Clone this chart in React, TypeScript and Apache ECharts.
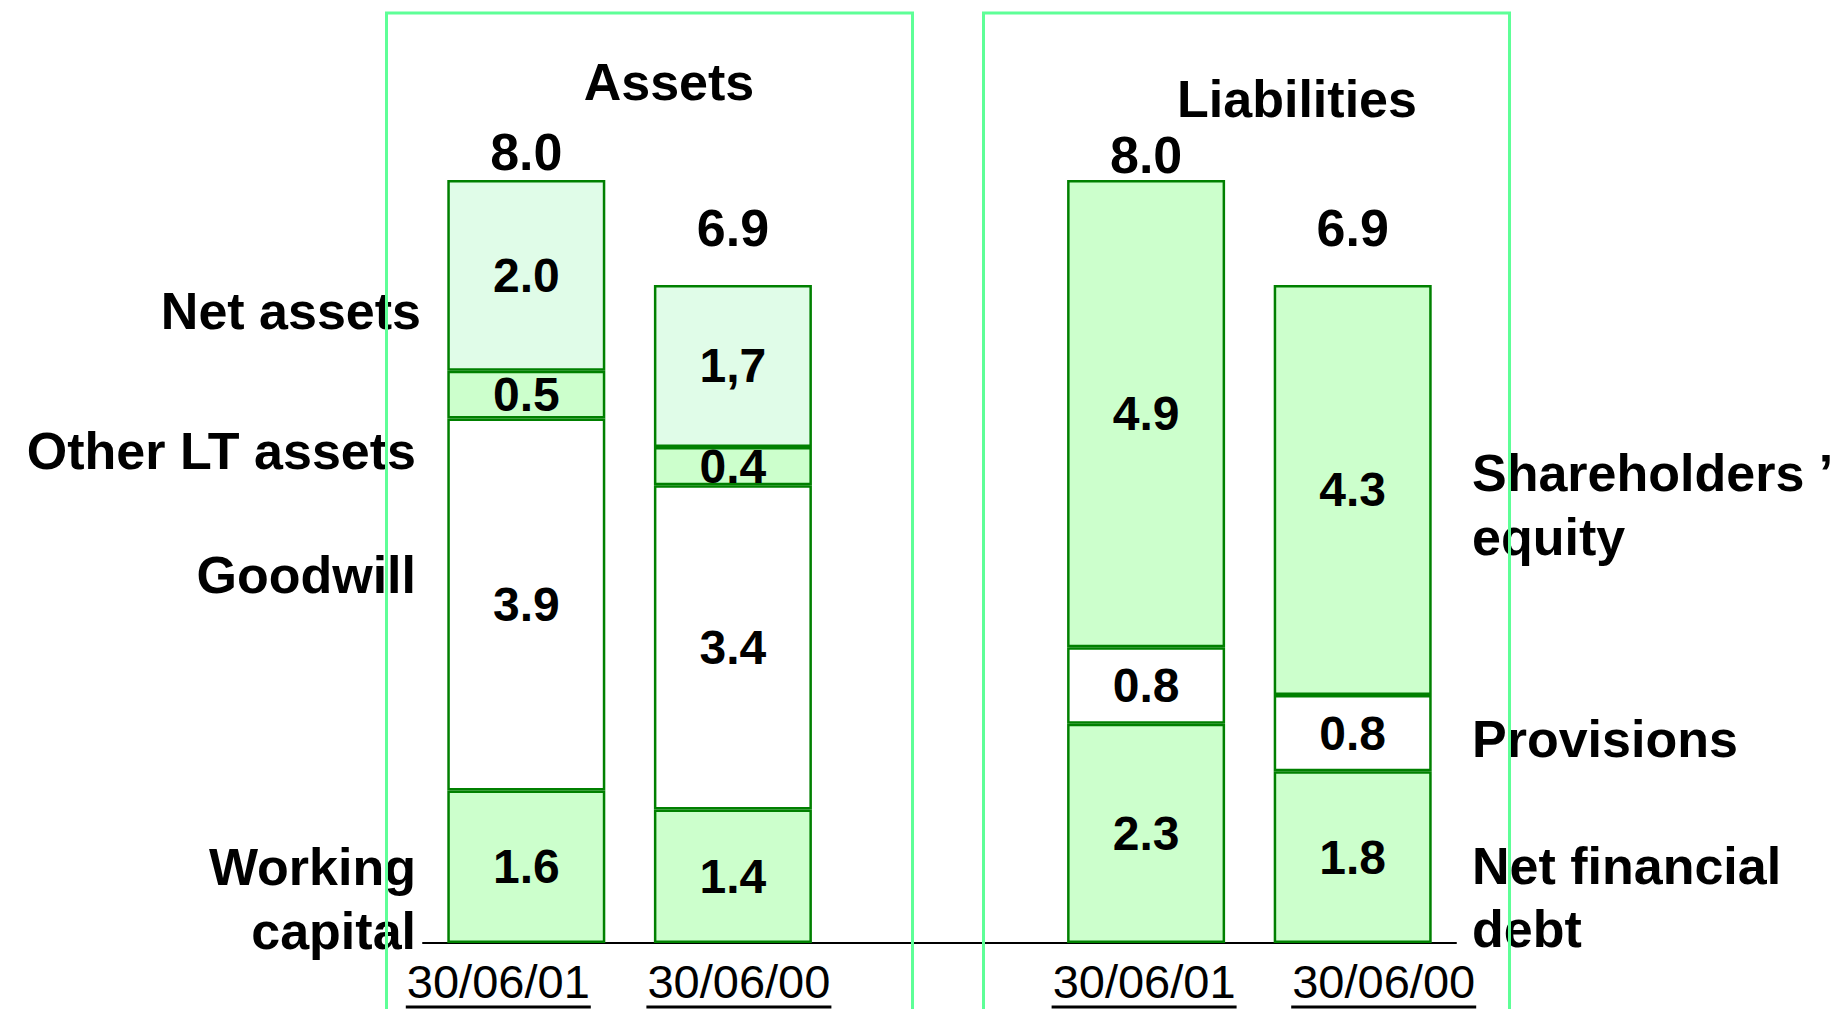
import React, { useEffect, useRef } from "react";
import * as echarts from "echarts";

const categories = ["30/06/01", "30/06/00", "", "30/06/01", "30/06/00"];
const workingCapital = [1.6, 1.4, null, null, null];
const goodwill = [3.9, 3.4, null, null, null];
const otherLtAssets = [0.5, 0.4, null, null, null];
const netAssets = [2.0, 1.7, null, null, null];
const netAssetsLabels = ["2.0", "1,7", "", "", ""];
const netFinancialDebt = [null, null, null, 2.3, 1.8];
const provisions = [null, null, null, 0.8, 0.8];
const shareholdersEquity = [null, null, null, 4.9, 4.3];

const panelTitles = ["Assets", "Liabilities"];
const assetLabels = ["Net assets", "Other LT assets", "Goodwill", "Working\ncapital"];
const liabilityLabels = ["Shareholders \u2019\nequity", "Provisions", "Net financial\ndebt"];

const FONT = "'Liberation Sans', Arial, Helvetica, sans-serif";
const BORDER = "#008000";
const GREEN = "#CCFFCC";
const PALE = "#E0FCE8";
const BOX = "#5EFF97";

// styling (not data): per-category shifts of date labels and total-label gaps
const dateLabelPadding = [
  [0, 56, 0, 0],
  [0, 0, 0, 12],
  [0, 0, 0, 0],
  [0, 4, 0, 0],
  [0, 0, 0, 62],
];
const totalLabelGap = [2, 31, 0, -1, 31];

const allSegments = [workingCapital, goodwill, otherLtAssets, netAssets, netFinancialDebt, provisions, shareholdersEquity];
const totals = categories.map((_, i) => {
  let s = 0;
  let any = false;
  allSegments.forEach((arr) => {
    const v = arr[i];
    if (v !== null && v !== undefined) {
      s += v;
      any = true;
    }
  });
  return any ? Math.round(s * 10) / 10 : null;
});

function segment(name: string, data: (number | null)[], color: string, labels?: string[]) {
  return {
    type: "bar",
    name,
    stack: "total",
    data,
    barWidth: 158,
    barGap: "-100%",
    itemStyle: { color, borderColor: BORDER, borderWidth: 2.5 },
    label: {
      show: true,
      position: "inside",
      fontSize: 48,
      fontWeight: "bold",
      fontFamily: FONT,
      color: "#000",
      formatter: (p: any) => (labels ? labels[p.dataIndex] : Number(p.value).toFixed(1)),
    },
    silent: true,
  };
}

export default function App() {
  const ref = useRef<HTMLDivElement>(null);
  useEffect(() => {
    if (!ref.current) return;
    const chart = echarts.init(ref.current, null, { renderer: "svg" });

    const textEl = (text: string, x: number, y: number, align: string, lh = 64) => ({
      type: "text",
      x,
      y,
      z: 10,
      style: {
        text,
        fill: "#000",
        font: `bold 52px ${FONT}`,
        fontSize: 52,
        fontWeight: "bold",
        fontFamily: FONT,
        lineHeight: lh,
        align,
        textAlign: align,
        verticalAlign: "middle",
        textVerticalAlign: "middle",
      },
    });

    const option: any = {
      animation: false,
      backgroundColor: "#fff",
      grid: { left: 423, right: 384, top: 180, bottom: 66, containLabel: false },
      xAxis: {
        type: "category",
        data: categories.map((c, i) => ({
          value: c,
          textStyle: { padding: dateLabelPadding[i] },
        })),
        axisLine: { show: true, lineStyle: { color: "#000", width: 2 } },
        axisTick: { show: false },
        splitLine: { show: false },
        axisLabel: {
          interval: 0,
          hideOverlap: false,
          margin: 14,
          formatter: (v: string) => (v ? `{t|${v}}\n{u| }` : ""),
          rich: {
            t: { fontSize: 47, fontFamily: FONT, color: "#000", lineHeight: 48, align: "center" },
            u: { width: 185, height: 3, lineHeight: 4, backgroundColor: "#000", fontSize: 1, align: "center" },
          },
        },
      },
      yAxis: { type: "value", min: 0, max: 8, show: false, splitLine: { show: false } },
      series: [
        segment("Working capital", workingCapital, GREEN),
        segment("Goodwill", goodwill, "#FFFFFF"),
        segment("Other LT assets", otherLtAssets, GREEN),
        segment("Net assets", netAssets, PALE, netAssetsLabels),
        segment("Net financial debt", netFinancialDebt, GREEN),
        segment("Provisions", provisions, "#FFFFFF"),
        segment("Shareholders' equity", shareholdersEquity, GREEN),
        {
          type: "bar",
          name: "Total",
          data: totals.map((v, i) => ({ value: v, label: { distance: totalLabelGap[i] } })),
          barWidth: 158,
          barGap: "-100%",
          itemStyle: { color: "rgba(0,0,0,0)", borderWidth: 0 },
          silent: true,
          z: 1,
          label: {
            show: true,
            position: "top",
            fontSize: 52,
            fontWeight: "bold",
            fontFamily: FONT,
            color: "#000",
            formatter: (p: any) => (totals[p.dataIndex] == null ? "" : Number(totals[p.dataIndex]).toFixed(1)),
          },
        },
      ],
      graphic: [
        {
          type: "rect",
          z: 20,
          shape: { x: 386.5, y: 13, width: 526, height: 1100 },
          style: { fill: "none", stroke: BOX, lineWidth: 3 },
          silent: true,
        },
        {
          type: "rect",
          z: 20,
          shape: { x: 983.5, y: 13, width: 526, height: 1100 },
          style: { fill: "none", stroke: BOX, lineWidth: 3 },
          silent: true,
        },
        textEl(panelTitles[0], 669, 82, "center"),
        textEl(panelTitles[1], 1297, 99, "center"),
        textEl(assetLabels[0], 421, 311, "right"),
        textEl(assetLabels[1], 416, 451, "right"),
        textEl(assetLabels[2], 416, 575, "right"),
        textEl(assetLabels[3], 416, 899, "right"),
        textEl(liabilityLabels[0], 1472, 505, "left"),
        textEl(liabilityLabels[1], 1472, 739, "left"),
        textEl(liabilityLabels[2], 1472, 897, "left", 63),
      ],
    };
    chart.setOption(option);
    return () => chart.dispose();
  }, []);

  return (
    <div
      ref={ref}
      style={{ position: "absolute", left: 0, top: 0, width: 1840, height: 1009, background: "#fff" }}
    />
  );
}
